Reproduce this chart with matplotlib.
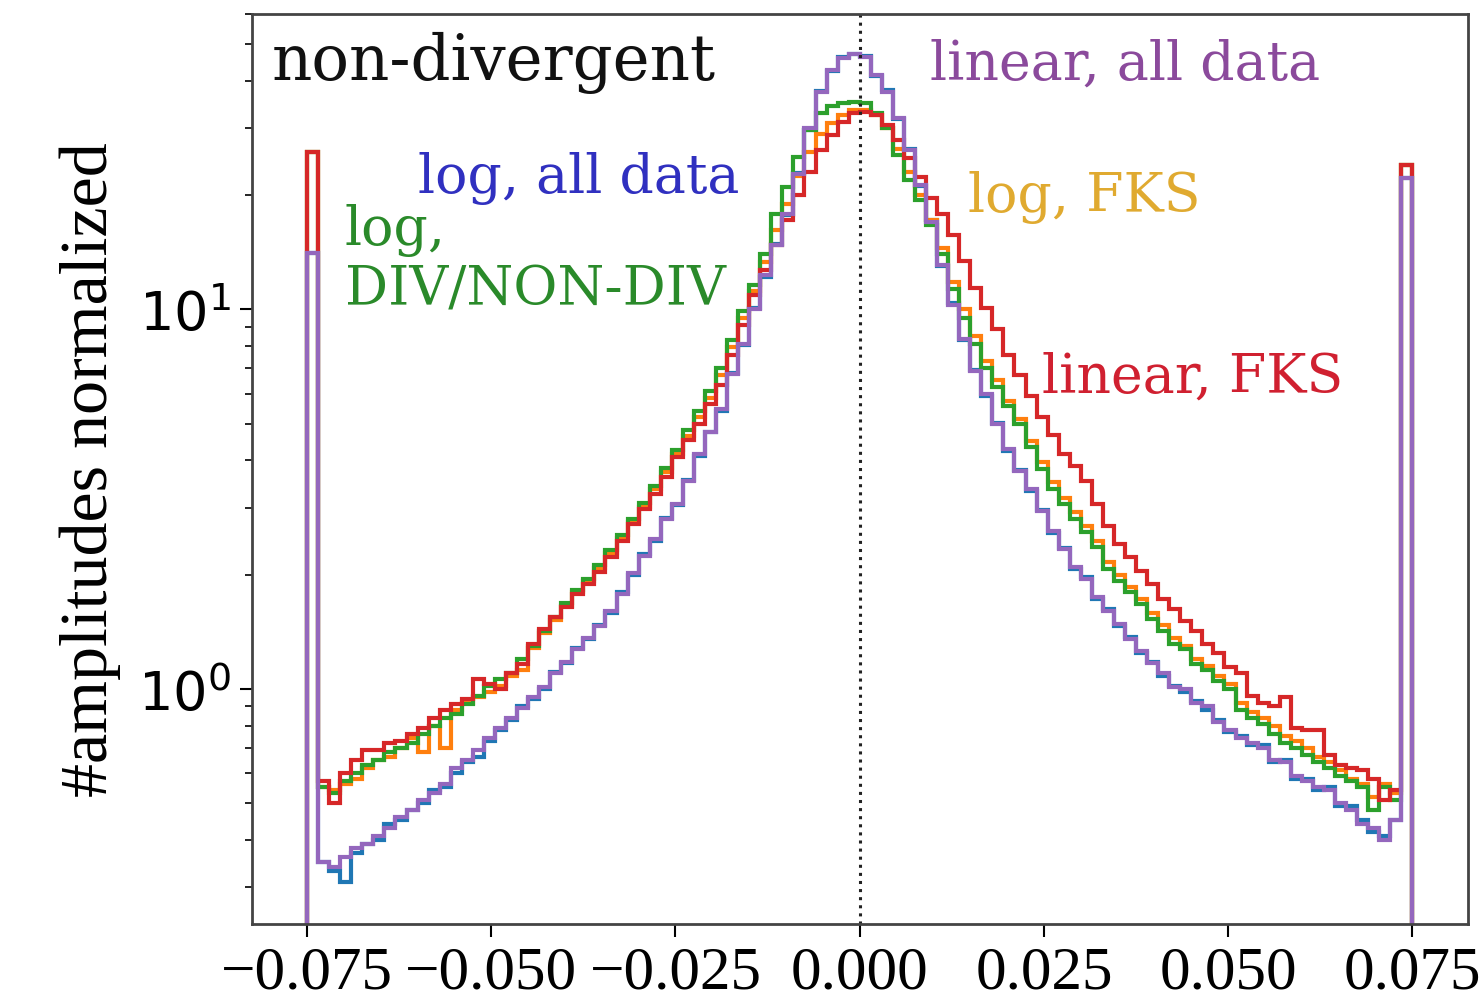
import numpy as np
import matplotlib
matplotlib.use('Agg')
import matplotlib.pyplot as plt

# bin edges of the amplitude histograms (100 bins, outer bins hold clipped values)
edges = np.linspace(-0.075, 0.075, 101)

log_all = [14.1, 0.35, 0.33, 0.31, 0.37, 0.39, 0.40, 0.44, 0.45, 0.48,
           0.50, 0.54, 0.55, 0.60, 0.64, 0.66, 0.73, 0.78, 0.83, 0.90,
           0.94, 1.00, 1.11, 1.17, 1.28, 1.35, 1.47, 1.58, 1.80, 2.00,
           2.26, 2.46, 2.82, 3.05, 3.55, 4.12, 4.76, 5.40, 6.78, 8.05,
           10.1, 12.2, 14.9, 17.7, 22.9, 29.8, 37.7, 42.5, 46.2, 47.0,
           46.5, 41.3, 37.8, 31.8, 26.5, 21.1, 17.2, 13.0, 10.4, 8.30,
           6.92, 5.92, 5.02, 4.24, 3.77, 3.33, 2.96, 2.58, 2.35, 2.07,
           1.97, 1.73, 1.62, 1.46, 1.37, 1.24, 1.18, 1.08, 1.02, 0.98,
           0.93, 0.88, 0.83, 0.77, 0.75, 0.71, 0.71, 0.64, 0.65, 0.58,
           0.58, 0.54, 0.55, 0.49, 0.49, 0.45, 0.42, 0.41, 0.45, 22.2]

log_fks = [26.0, 0.55, 0.54, 0.56, 0.58, 0.62, 0.65, 0.66, 0.70, 0.74,
           0.68, 0.80, 0.70, 0.88, 0.92, 0.95, 0.98, 1.02, 1.08, 1.12,
           1.28, 1.40, 1.52, 1.65, 1.80, 1.92, 2.08, 2.28, 2.50, 2.76,
           3.02, 3.36, 3.72, 4.15, 4.65, 5.20, 5.85, 6.70, 7.95, 9.50,
           11.2, 13.3, 16.2, 19.0, 22.5, 26.0, 29.0, 31.0, 32.5, 33.5,
           33.6, 32.5, 30.0, 26.5, 23.0, 20.0, 17.2, 14.5, 11.8, 10.0,
           8.50, 7.30, 6.50, 5.75, 5.15, 4.50, 3.95, 3.50, 3.18, 2.92,
           2.68, 2.45, 2.16, 2.00, 1.86, 1.72, 1.58, 1.47, 1.36, 1.30,
           1.20, 1.15, 1.08, 1.03, 0.92, 0.87, 0.84, 0.80, 0.75, 0.73,
           0.70, 0.66, 0.64, 0.61, 0.58, 0.56, 0.52, 0.56, 0.53, 24.0]

log_div = [26.0, 0.55, 0.53, 0.57, 0.60, 0.63, 0.65, 0.68, 0.70, 0.72,
           0.76, 0.80, 0.84, 0.86, 0.91, 0.96, 1.02, 1.06, 1.10, 1.20,
           1.30, 1.42, 1.55, 1.68, 1.82, 1.95, 2.12, 2.32, 2.55, 2.80,
           3.08, 3.42, 3.82, 4.25, 4.80, 5.40, 6.10, 7.00, 8.30, 9.90,
           11.6, 14.0, 17.8, 21.0, 25.3, 29.8, 32.9, 34.4, 35.0, 35.2,
           35.0, 32.9, 30.0, 25.6, 21.9, 19.4, 16.7, 14.0, 11.3, 9.50,
           8.10, 7.00, 6.24, 5.55, 4.98, 4.33, 3.79, 3.36, 3.07, 2.80,
           2.59, 2.36, 2.07, 1.92, 1.80, 1.67, 1.53, 1.42, 1.31, 1.27,
           1.16, 1.12, 1.05, 1.00, 0.88, 0.84, 0.81, 0.76, 0.72, 0.70,
           0.67, 0.64, 0.62, 0.59, 0.57, 0.55, 0.48, 0.55, 0.51, 24.0]

lin_fks = [26.0, 0.57, 0.50, 0.60, 0.65, 0.69, 0.69, 0.72, 0.73, 0.76,
           0.79, 0.84, 0.88, 0.91, 0.94, 1.06, 1.03, 1.00, 1.10, 1.16,
           1.31, 1.44, 1.55, 1.64, 1.78, 1.89, 2.03, 2.22, 2.45, 2.72,
           2.97, 3.26, 3.61, 4.08, 4.54, 4.98, 5.62, 6.34, 7.60, 9.10,
           10.9, 12.7, 14.8, 17.2, 20.0, 23.0, 26.3, 28.8, 31.2, 33.0,
           33.2, 32.6, 30.6, 28.0, 25.1, 22.3, 19.7, 17.8, 15.7, 13.4,
           11.4, 10.1, 8.90, 7.60, 6.70, 5.90, 5.20, 4.68, 4.15, 3.86,
           3.53, 3.07, 2.68, 2.41, 2.22, 2.04, 1.89, 1.72, 1.62, 1.51,
           1.42, 1.31, 1.24, 1.14, 1.10, 0.96, 0.92, 0.90, 0.95, 0.79,
           0.78, 0.78, 0.67, 0.63, 0.62, 0.61, 0.58, 0.51, 0.54, 24.1]

lin_all = [14.1, 0.35, 0.34, 0.36, 0.38, 0.39, 0.41, 0.43, 0.46, 0.48,
           0.51, 0.53, 0.56, 0.62, 0.65, 0.69, 0.74, 0.79, 0.84, 0.89,
           0.95, 1.01, 1.10, 1.18, 1.27, 1.36, 1.46, 1.60, 1.78, 2.02,
           2.24, 2.48, 2.80, 3.07, 3.53, 4.15, 4.74, 5.45, 6.74, 8.10,
           10.0, 12.3, 14.8, 17.8, 22.7, 30.0, 37.5, 42.8, 46.0, 47.2,
           46.3, 41.5, 37.5, 32.0, 26.3, 21.3, 17.0, 13.1, 10.3, 8.35,
           6.87, 5.97, 4.98, 4.28, 3.74, 3.36, 2.94, 2.60, 2.33, 2.09,
           1.95, 1.75, 1.60, 1.48, 1.35, 1.26, 1.17, 1.10, 1.01, 1.00,
           0.92, 0.90, 0.82, 0.78, 0.74, 0.72, 0.70, 0.65, 0.64, 0.59,
           0.57, 0.55, 0.54, 0.50, 0.48, 0.44, 0.43, 0.40, 0.45, 22.2]

series = [log_all, log_fks, log_div, lin_fks, lin_all]
colors = ['C0', 'C1', 'C2', 'C3', 'C4']

xticks = [-0.075, -0.050, -0.025, 0.000, 0.025, 0.050, 0.075]
xticklabels = ['\u22120.075', '\u22120.050', '\u22120.025', '0.000', '0.025', '0.050', '0.075']

plt.rcParams['mathtext.fontset'] = 'dejavuserif'

fig = plt.figure(figsize=(14.81, 10.03), dpi=100)
ax = fig.add_axes([0.170, 0.0778, 0.821, 0.907])

for vals, c in zip(series, colors):
    ax.stairs(vals, edges, baseline=0, color=c, lw=3.0)

ax.axvline(0, color='#222222', ls=':', lw=2.2)

ax.set_yscale('log')
ax.set_xlim(-0.0825, 0.0825)
ax.set_ylim(0.24, 60)

ax.set_xticks(xticks, labels=xticklabels, fontfamily='Liberation Serif', fontsize=44)
ax.tick_params(axis='x', length=9, width=1.5, pad=6)
ax.tick_params(axis='y', which='major', length=9, width=1.5, labelsize=39, pad=6)
ax.tick_params(axis='y', which='minor', length=5, width=1.2)
for sp in ax.spines.values():
    sp.set_color('#444444')
    sp.set_linewidth(2)

ax.set_ylabel('#amplitudes normalized', fontfamily='Liberation Serif', fontsize=49, labelpad=12)

tf = ax.transAxes
ax.text(0.016, 0.929, 'non-divergent', transform=tf, fontfamily='DejaVu Serif', fontsize=45, color='#111111', va='baseline')
ax.text(0.558, 0.929, 'linear, all data', transform=tf, fontfamily='DejaVu Serif', fontsize=38.7, color='#8b4a9c', va='baseline')
ax.text(0.137, 0.805, 'log, all data', transform=tf, fontfamily='DejaVu Serif', fontsize=38.7, color='#3030c0', va='baseline')
ax.text(0.0765, 0.747, 'log,', transform=tf, fontfamily='DejaVu Serif', fontsize=38.7, color='#2a8a2a', va='baseline')
ax.text(0.0765, 0.681, 'DIV/NON-DIV', transform=tf, fontfamily='DejaVu Serif', fontsize=38.7, color='#2a8a2a', va='baseline')
ax.text(0.589, 0.7835, 'log, FKS', transform=tf, fontfamily='DejaVu Serif', fontsize=38.7, color='#e0aa30', va='baseline')
ax.text(0.650, 0.585, 'linear, FKS', transform=tf, fontfamily='DejaVu Serif', fontsize=38.7, color='#d02030', va='baseline')

fig.savefig('out.png', dpi=100)
